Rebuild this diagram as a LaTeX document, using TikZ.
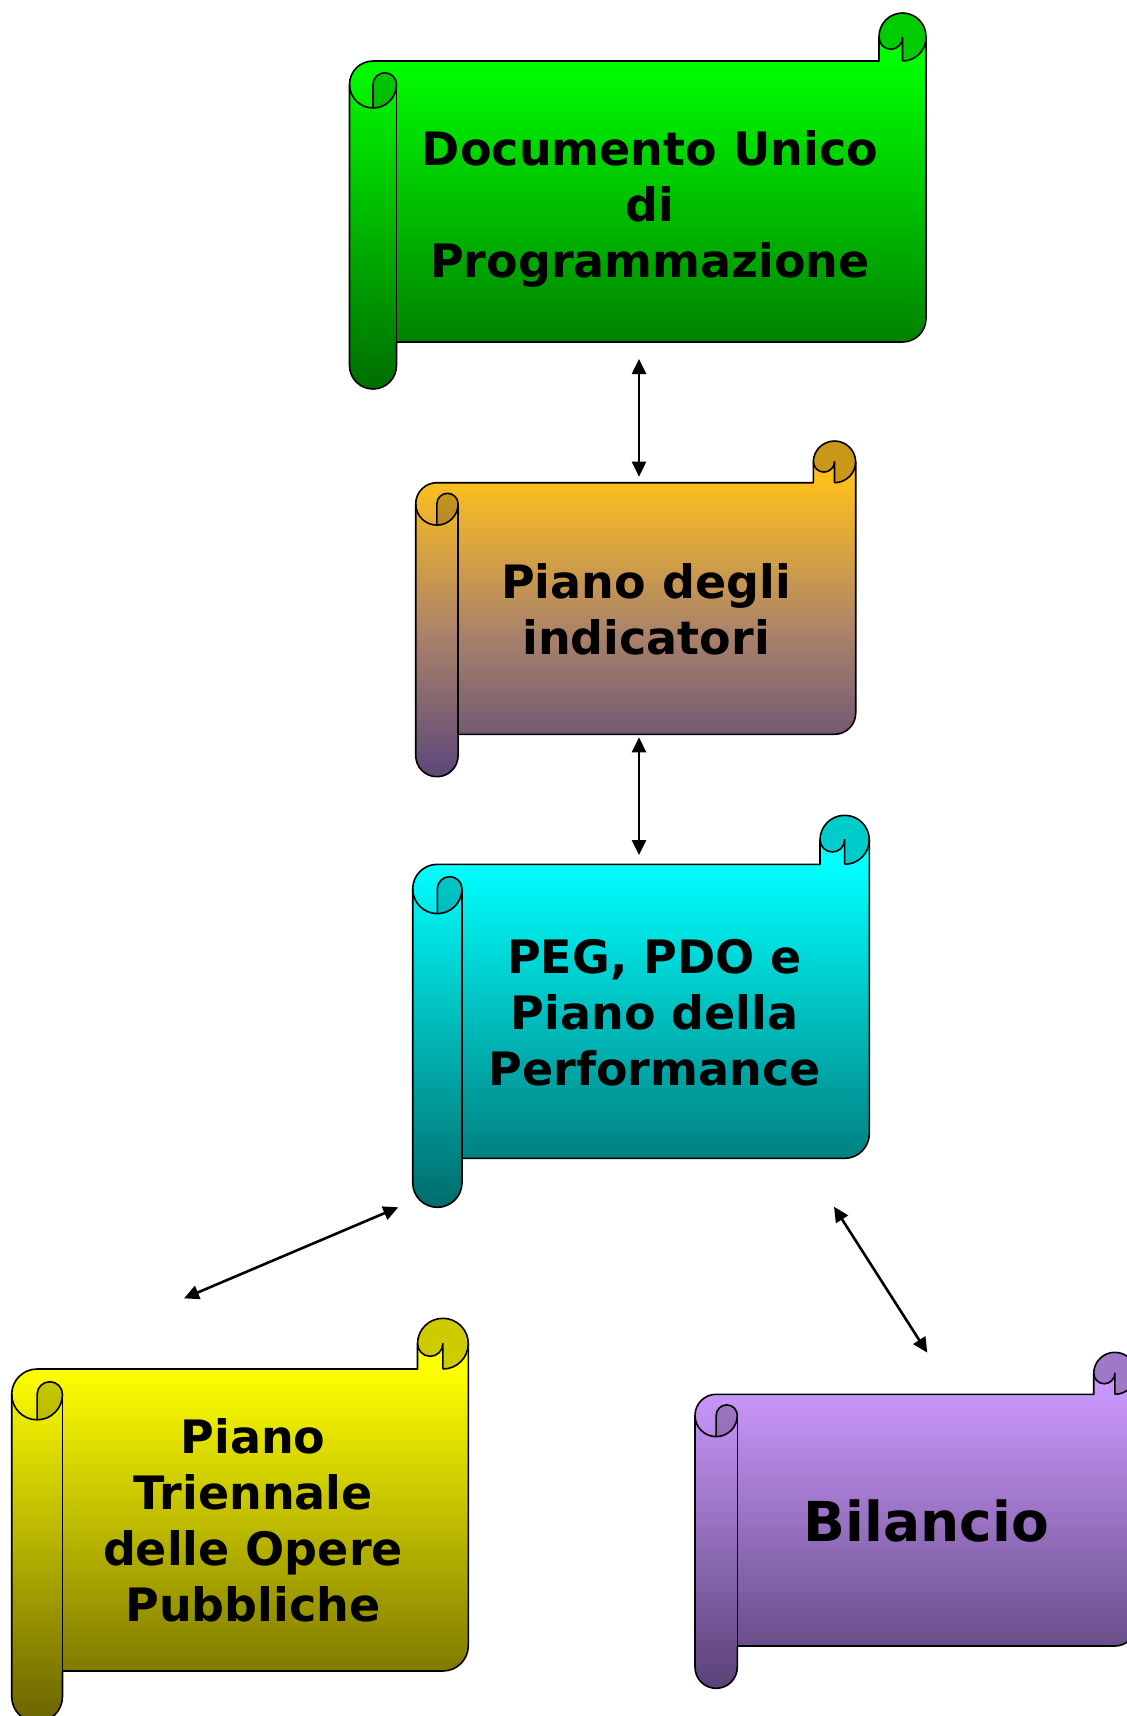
\documentclass[tikz,border=0pt]{standalone}
\usepackage{fontspec}
\newfontfamily\scrollfont{DejaVu Sans}
\usetikzlibrary{arrows.meta}
\definecolor{grTop}{HTML}{00FF00}
\definecolor{grBot}{HTML}{006E00}
\definecolor{orTop}{HTML}{FCBE1E}
\definecolor{orMid}{HTML}{AD8468}
\definecolor{orBot}{HTML}{5C487A}
\definecolor{cyTop}{HTML}{00FFFF}
\definecolor{cyBot}{HTML}{006C6C}
\definecolor{yeTop}{HTML}{FFFF00}
\definecolor{yeBot}{HTML}{6A6400}
\definecolor{puTop}{HTML}{C896FA}
\definecolor{puBot}{HTML}{5A4278}
\pgfdeclareverticalshading{shgreen}{100bp}{color(0bp)=(grBot); color(25bp)=(grBot); color(68.75bp)=(grTop); color(100bp)=(grTop)}
\pgfdeclareverticalshading{shorange}{100bp}{color(0bp)=(orBot); color(25bp)=(orBot); color(47bp)=(orMid); color(68.75bp)=(orTop); color(100bp)=(orTop)}
\pgfdeclareverticalshading{shcyan}{100bp}{color(0bp)=(cyBot); color(25bp)=(cyBot); color(68.75bp)=(cyTop); color(100bp)=(cyTop)}
\pgfdeclareverticalshading{shyellow}{100bp}{color(0bp)=(yeBot); color(25bp)=(yeBot); color(68.75bp)=(yeTop); color(100bp)=(yeTop)}
\pgfdeclareverticalshading{shpurple}{100bp}{color(0bp)=(puBot); color(25bp)=(puBot); color(68.75bp)=(puTop); color(100bp)=(puTop)}
\tikzset{
  greenshade/.style={shading=shgreen},
  orangeshade/.style={shading=shorange},
  cyanshade/.style={shading=shcyan},
  yellowshade/.style={shading=shyellow},
  purpleshade/.style={shading=shpurple},
  scrollline/.style={draw=black,line width=1.6pt,line join=round},
  curldark/.style={fill=black,fill opacity=0.2},
  scrolltext/.style={align=center,inner sep=0pt,text=black,
    font=\scrollfont\bfseries\fontsize{46}{56}\selectfont},
  linkarrow/.style={line width=2.6pt,
    {Triangle[length=15pt,width=14pt]}-{Triangle[length=15pt,width=14pt]}}
}
% #1 L, #2 R, #3 curl top, #4 body top, #5 body bottom, #6 roll bottom, #7 roll width, #8 shading style
\newcommand\scrollshape[8]{%
  \pgfmathsetmacro\kL{#1}\pgfmathsetmacro\kR{#2}\pgfmathsetmacro\kCt{#3}%
  \pgfmathsetmacro\kT{#4}\pgfmathsetmacro\kB{#5}\pgfmathsetmacro\kRb{#6}%
  \pgfmathsetmacro\ka{#7}\pgfmathsetmacro\kr{#7/2}\pgfmathsetmacro\kh{#7/4}%
  \path[#8] (\kL,\kT+\kr) -- (\kL,\kRb-\kr)
    arc[start angle=180,end angle=0,radius=\kr] -- (\kL+\ka,\kB)
    -- (\kR-\kr,\kB) arc[start angle=90,end angle=0,radius=\kr]
    -- (\kR,\kCt+\kr) arc[start angle=0,end angle=-180,radius=\kr]
    -- (\kR-\ka,\kT) -- (\kL+\kr,\kT)
    arc[start angle=-90,end angle=-180,radius=\kr] -- cycle;
  \path[curldark] (\kL+\kr,\kT+\ka) -- (\kL+\kr,\kT+\kr)
    arc[start angle=180,end angle=360,radius=\kh]
    arc[start angle=0,end angle=90,radius=\kr] -- cycle;
  \path[curldark] (\kR,\kCt+\kr) -- (\kR,\kT-\kr)
    arc[start angle=0,end angle=90,radius=\kr] -- (\kR-\kr,\kT-\kr)
    arc[start angle=0,end angle=180,radius=\kh] -- (\kR-\ka,\kCt+\kr)
    arc[start angle=180,end angle=360,radius=\kr] -- cycle;
  \path[scrollline] (\kL,\kT+\kr) -- (\kL,\kRb-\kr)
    arc[start angle=180,end angle=0,radius=\kr] -- (\kL+\ka,\kB)
    -- (\kR-\kr,\kB) arc[start angle=90,end angle=0,radius=\kr]
    -- (\kR,\kCt+\kr) arc[start angle=0,end angle=-180,radius=\kr]
    -- (\kR-\ka,\kT) -- (\kL+\kr,\kT)
    arc[start angle=-90,end angle=-180,radius=\kr] -- cycle;
  \path[scrollline] (\kL+\ka,\kT+\kr) -- (\kL+\ka,\kB);
  \path[scrollline] (\kL,\kT+\kr) arc[start angle=180,end angle=0,radius=\kr];
  \path[scrollline] (\kL+\kr,\kT+\ka) -- (\kL+\kr,\kT+\kr)
    arc[start angle=180,end angle=360,radius=\kh];
  \path[scrollline] (\kR-\kr,\kT) -- (\kR-\kr,\kT-\kr)
    arc[start angle=0,end angle=180,radius=\kh];
  \path[scrollline] (\kR,\kT-\kr) arc[start angle=0,end angle=90,radius=\kr];
}
\begin{document}
\begin{tikzpicture}[x=1pt,y=-1pt]
  \useasboundingbox (0,0) rectangle (1127,1716);
  \fill[white] (0,0) rectangle (1127,1716);
  \clip (0,0) rectangle (1127,1716);

  % scrolls
  \scrollshape{349.5}{926}{13}{61}{342}{389}{47}{greenshade}
  \scrollshape{415.7}{855.7}{441}{482.7}{734.3}{776.7}{42.4}{orangeshade}
  \scrollshape{412.7}{869.3}{815.3}{864.3}{1158.3}{1207.3}{49.3}{cyanshade}
  \scrollshape{11.7}{468.3}{1318.3}{1369}{1671}{1722}{50.8}{yellowshade}
  \scrollshape{695}{1136}{1352.3}{1394.3}{1646}{1688.3}{42.3}{purpleshade}

  % texts
  \node[scrolltext] (dup) at (650,208.5) {Documento Unico\\di\\Programmazione};
  \node[scrolltext] (pdi) at (646,609) {Piano degli\\indicatori};
  \node[scrolltext] (peg) at (654.5,1013) {PEG, PDO e\\Piano della\\Performance};
  \node[scrolltext] (pto) at (253,1520.5) {Piano\\Triennale\\delle Opere\\Pubbliche};
  \node[scrolltext,font=\scrollfont\bfseries\fontsize{55}{66}\selectfont] (bil) at (926.5,1521) {Bilancio};

  % arrow end points
  \coordinate (a1s) at (639,359);
  \coordinate (a1e) at (639,476.7);
  \coordinate (a2s) at (639,737.3);
  \coordinate (a2e) at (639,855);
  \coordinate (a3s) at (398.3,1207.3);
  \coordinate (a3e) at (184,1298.3);
  \coordinate (a4s) at (834,1206.7);
  \coordinate (a4e) at (927.3,1352.7);

  \draw[linkarrow] (a1s) -- (a1e);
  \draw[linkarrow] (a2s) -- (a2e);
  \draw[linkarrow] (a3s) -- (a3e);
  \draw[linkarrow] (a4s) -- (a4e);
\end{tikzpicture}
\end{document}
